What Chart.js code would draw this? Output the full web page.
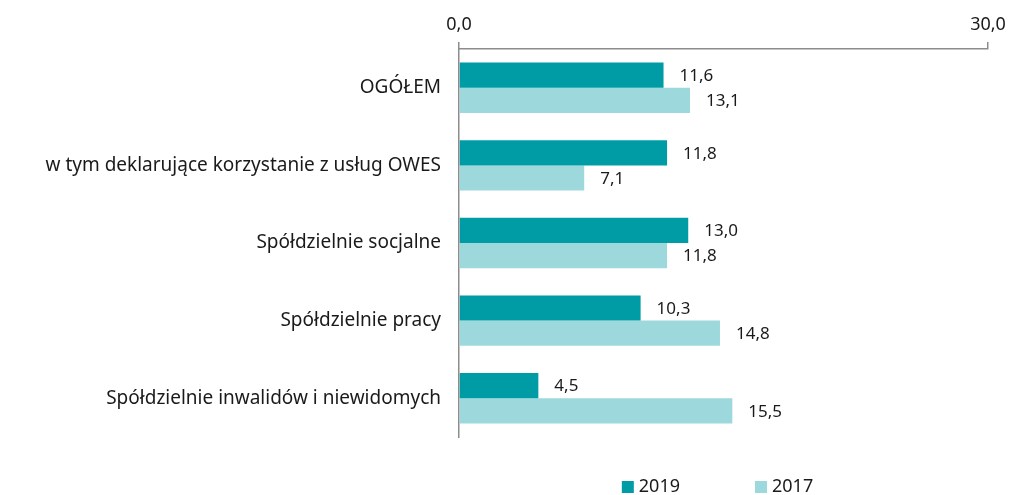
<!DOCTYPE html>
<html>
<head>
<meta charset="utf-8">
<script src="https://cdn.jsdelivr.net/npm/chart.js@4"></script>
<style>
  html, body { margin: 0; padding: 0; background: #fff; }
  #wrap { width: 1017px; height: 495px; }
</style>
</head>
<body>
<div id="wrap"><canvas id="chart"></canvas></div>
<script>
const categories = [
  "OGÓŁEM",
  "w tym deklarujące korzystanie z usług OWES",
  "Spółdzielnie socjalne",
  "Spółdzielnie pracy",
  "Spółdzielnie inwalidów i niewidomych"
];
const values2019 = [11.6, 11.8, 13.0, 10.3, 4.5];
const values2017 = [13.1, 7.1, 11.8, 14.8, 15.5];
const seriesNames = ["2019", "2017"];
const axisTicks = [0, 30];

const FONT = "'Noto Sans', sans-serif";
const TEXT = "#1a1a1a";
const fmt = v => v.toFixed(1).replace(".", ",");

// value labels at the end of each bar
const barValues = {
  id: "barValues",
  afterDatasetsDraw(chart) {
    const ctx = chart.ctx;
    ctx.save();
    ctx.font = "17px " + FONT;
    ctx.fillStyle = TEXT;
    ctx.textAlign = "left";
    ctx.textBaseline = "middle";
    chart.data.datasets.forEach((ds, i) => {
      chart.getDatasetMeta(i).data.forEach((bar, j) => {
        ctx.fillText(fmt(ds.data[j]), bar.x + 16, bar.y + 1);
      });
    });
    ctx.restore();
  }
};

// legend under the plot, centred on the plot area
const bottomLegend = {
  id: "bottomLegend",
  afterDraw(chart) {
    const ctx = chart.ctx;
    const box = 12, gapText = 5, gapItem = 75, y = 487;
    ctx.save();
    ctx.font = "18px " + FONT;
    const items = chart.data.datasets.map(ds => ({
      label: ds.label, color: ds.backgroundColor, w: ctx.measureText(ds.label).width
    }));
    const total = items.reduce((s, it) => s + box + gapText + it.w, 0) + gapItem * (items.length - 1);
    let x = (chart.chartArea.left + chart.chartArea.right) / 2 - total / 2 - 6;
    ctx.textAlign = "left";
    ctx.textBaseline = "middle";
    items.forEach(it => {
      ctx.fillStyle = it.color;
      ctx.fillRect(x, y - box / 2, box, box);
      ctx.fillStyle = TEXT;
      ctx.fillText(it.label, x + box + gapText, y);
      x += box + gapText + it.w + gapItem;
    });
    ctx.restore();
  }
};

new Chart(document.getElementById("chart"), {
  type: "bar",
  data: {
    labels: categories,
    datasets: [
      { label: seriesNames[0], data: values2019, backgroundColor: "#009ca6" },
      { label: seriesNames[1], data: values2017, backgroundColor: "#9dd8dc" }
    ]
  },
  options: {
    indexAxis: "y",
    responsive: true,
    maintainAspectRatio: false,
    animation: false,
    layout: { padding: { left: 0, right: 29, top: 0, bottom: 58 } },
    datasets: { bar: { categoryPercentage: 0.65, barPercentage: 1.0 } },
    scales: {
      x: {
        position: "top",
        min: axisTicks[0],
        max: axisTicks[axisTicks.length - 1],
        afterFit: s => { s.height = 49; },
        afterBuildTicks: s => { s.ticks = axisTicks.map(v => ({ value: v })); },
        ticks: {
          color: TEXT,
          font: { family: FONT, size: 18 },
          padding: 6,
          maxRotation: 0,
          callback: v => fmt(v)
        },
        grid: { drawOnChartArea: false, drawTicks: true, tickLength: 7, color: "#8c8c8c", lineWidth: 1.5 },
        border: { display: true, color: "#8c8c8c", width: 1.5 }
      },
      y: {
        afterFit: s => { s.width = 459; },
        ticks: {
          color: TEXT,
          font: { family: FONT, size: 19 },
          padding: 18
        },
        grid: { display: false, drawTicks: false },
        border: { display: true, color: "#8c8c8c", width: 1.5 }
      }
    },
    plugins: {
      tooltip: { enabled: false },
      legend: { display: false }
    }
  },
  plugins: [barValues, bottomLegend]
});
</script>
</body>
</html>
